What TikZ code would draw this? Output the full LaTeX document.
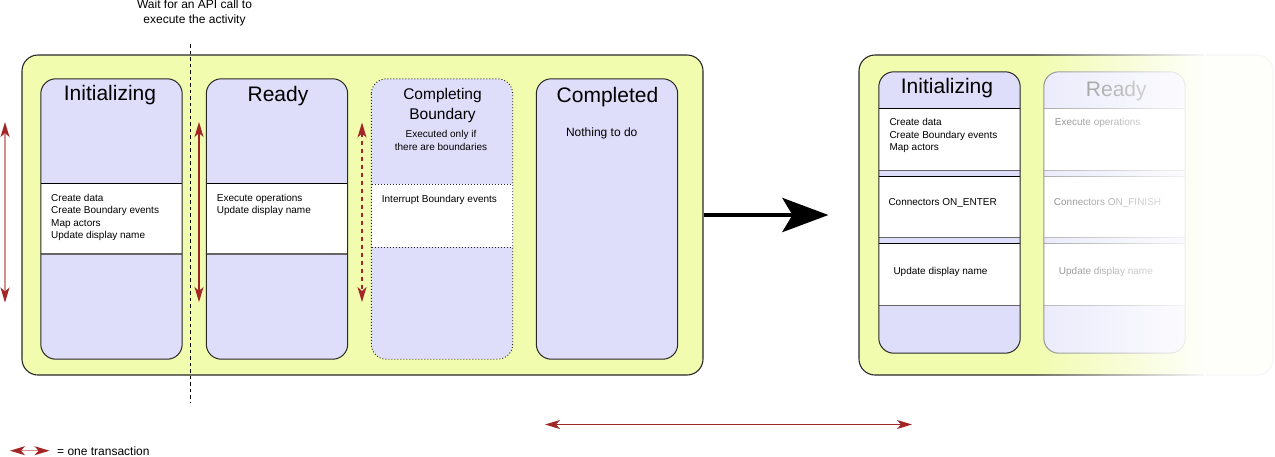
\documentclass[tikz,border=0pt]{standalone}
\usepackage{fontspec}
\setmainfont{Liberation Sans}
\usetikzlibrary{arrows.meta,fadings}

\definecolor{panelyellow}{RGB}{242,252,174}
\definecolor{statelav}{RGB}{222,222,250}
\definecolor{txred}{RGB}{163,38,38}
\definecolor{txpink}{RGB}{212,142,142}
\definecolor{edge}{RGB}{40,40,40}

% white veil that grows from transparent (left) to opaque (right)
\tikzfading[name=whiten, left color=transparent!100, right color=transparent!0]

\begin{document}
\begin{tikzpicture}[x=1pt,y=-1pt,
  font=\fontsize{10}{12.45}\selectfont,
  panel/.style={draw=edge, line width=1.1pt, fill=panelyellow, rounded corners=16pt, inner sep=0pt,
    minimum width=681pt, minimum height=320pt},
  statebox/.style={fill=statelav, inner sep=0pt, minimum width=141pt, minimum height=280pt, rounded corners=15pt},
  boxline/.style={draw=edge, line width=1pt, rounded corners=15pt},
  boxdots/.style={draw=edge, line width=0.9pt, rounded corners=15pt, dash pattern=on 1pt off 2pt},
  bandtop/.style={draw=black, line width=1pt},
  bandbot/.style={draw=black!60, line width=1.3pt},
  title/.style={inner sep=0pt, anchor=base, font=\fontsize{21}{25}\selectfont},
  body/.style={inner sep=0pt, anchor=north west, align=left},
  oneline/.style={inner sep=0pt, anchor=base west},
  redtip/.tip={Stealth[length=15pt,width=9pt,inset=4pt,color=txred]},
  trans/.style={draw=txred, line width=1.4pt, redtip-redtip},
  transpale/.style={trans, draw=txpink},
  bigarrow/.style={draw=black, line width=4.5pt, -{Stealth[length=46pt,width=34pt,inset=10pt]}},
  faded/.style={text=black!50},
]
\useasboundingbox (0,0) rectangle (1275,456);

% ---------------- left panel: the four states ----------------
\node[panel] (outerL) at (362.5,215) {};

% Initializing
\node[statebox] (init) at (111.5,219) {};
\fill[white] (41,183) rectangle (182,254);
\draw[bandtop] (41,183) -- (182,183);
\draw[bandbot] (41,254) -- (182,254);
\draw[boxline] (init.north west) rectangle (init.south east);
\node[title] (tinit) at (110,100.5) {Initializing};
\node[body] (binit) at (51,193.8) {Create data\\Create Boundary events\\Map actors\\Update display name};

% Ready
\node[statebox] (ready) at (277,219) {};
\fill[white] (206.5,183) rectangle (347.5,254);
\draw[bandtop] (206.5,183) -- (347.5,183);
\draw[bandbot] (206.5,254) -- (347.5,254);
\draw[boxline] (ready.north west) rectangle (ready.south east);
\node[title] (tready) at (278,101.5) {Ready};
\node[body] (bready) at (216.7,193.8) {Execute operations\\Update display name};

% Completing Boundary (optional state, dotted)
\node[statebox] (cbound) at (442,219) {};
\fill[white] (371.5,184) rectangle (512.5,247);
\draw[boxdots] (371.5,184) -- (512.5,184);
\draw[boxdots] (371.5,247) -- (512.5,247);
\draw[boxdots] (cbound.north west) rectangle (cbound.south east);
\node[inner sep=0pt, anchor=north, align=center, font=\fontsize{15.5}{20}\selectfont] (tcbound) at (442.5,88.2) {Completing\\Boundary};
\node[inner sep=0pt, anchor=north, align=center, font=\fontsize{10}{13.3}\selectfont] (ncbound) at (441,130.1) {Executed only if\\there are boundaries};
\node[oneline] (bcbound) at (381.7,202.7) {Interrupt Boundary events};

% Completed
\node[statebox] (done) at (607,219) {};
\draw[boxline] (done.north west) rectangle (done.south east);
\node[title] (tdone) at (607.5,102.5) {Completed};
\node[inner sep=0pt, anchor=base, font=\fontsize{12}{14}\selectfont] (bdone) at (601.7,136.7) {Nothing to do};

% API call boundary
\node[inner sep=0pt, anchor=north, align=center, font=\fontsize{12}{14.5}\selectfont] (waitlbl) at (194.5,-0.2) {Wait for an API call to\\execute the activity};
\coordinate (waittop) at (190.5,44);
\coordinate (waitbot) at (190.5,403);
\draw[black, line width=0.9pt, dash pattern=on 3.5pt off 3pt] (waittop) -- (waitbot);

% transactions
\coordinate (ta1) at (5,122);   \coordinate (ta2) at (5,302.5);
\coordinate (tb1) at (199,122); \coordinate (tb2) at (199,302);
\coordinate (tc1) at (362,122.5); \coordinate (tc2) at (362,302);
\draw[transpale] (ta1) -- (ta2);
\draw[trans] (tb1) -- (tb2);
\draw[trans, dash pattern=on 4pt off 4pt] (tc1) -- (tc2);

% ---------------- right panel: detailed view ----------------
\node[panel, minimum width=414pt] (rp) at (1066,215) {};
\draw[bigarrow] (outerL.east) -- (outerL.east -| rp.west) [shorten >=30pt];

% Initializing, detailed
\node[statebox, minimum height=281pt] (rinit) at (949.5,212.5) {};
\foreach \ya/\yb in {108.3/170.7, 176/237.7, 243.3/305.7}{
  \fill[white] (879,\ya) rectangle (1020,\yb);
  \draw[bandtop] (879,\ya) -- (1020,\ya);
  \draw[bandbot] (879,\yb) -- (1020,\yb);
}
\draw[boxline] (rinit.north west) rectangle (rinit.south east);
\node[title] (trinit) at (947,93.3) {Initializing};
\node[body] (brinit) at (889.3,118.5) {Create data\\Create Boundary events\\Map actors};
\node[oneline] (crinit) at (888.3,205) {Connectors ON\_ENTER};
\node[oneline] (urinit) at (893.3,274) {Update display name};

% Ready, detailed (greyed out)
\node[statebox, fill=statelav!65!white, minimum height=281pt] (rready) at (1114.5,212.5) {};
\foreach \ya/\yb in {108.3/170.7, 176/237.7, 243.3/305.7}{
  \fill[white] (1044,\ya) rectangle (1185,\yb);
  \draw[bandtop, draw=black!35] (1044,\ya) -- (1185,\ya);
  \draw[bandbot, draw=black!30] (1044,\yb) -- (1185,\yb);
}
\draw[boxline, draw=black!45] (rready.north west) rectangle (rready.south east);
\node[title, faded] (trready) at (1116.3,96.7) {Ready};
\node[oneline, faded] (brready) at (1054.7,125.7) {Execute operations};
\node[oneline, faded] (crready) at (1053.7,205) {Connectors ON\_FINISH};
\node[oneline, faded] (urready) at (1058.7,274) {Update display name};

% veil over the right end of the detailed view
\fill[white, fill opacity=0.96, path fading=whiten] (1030,40) rectangle (1206,392);
\fill[white, fill opacity=0.96] (1204,40) rectangle (1278,392);

% ---------------- transaction span and legend ----------------
\coordinate (hs1) at (545,424.5); \coordinate (hs2) at (912,424.5);
\draw[trans] (hs1) -- (hs2);
\coordinate (lg1) at (10,450.7); \coordinate (lg2) at (49.5,450.7);
\draw[transpale] (lg1) -- (lg2);
\node[oneline, font=\fontsize{12}{14}\selectfont] (lgtext) at (57,455) {= one transaction};
\end{tikzpicture}
\end{document}
